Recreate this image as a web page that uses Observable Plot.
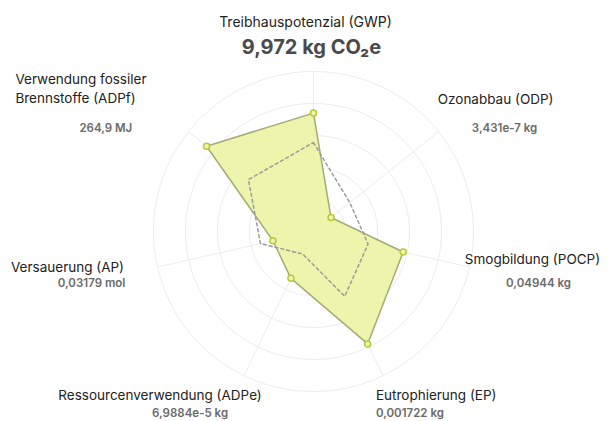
<!DOCTYPE html>
<html>
<head>
<meta charset="utf-8">
<script src="https://cdn.jsdelivr.net/npm/d3@7"></script>
<script src="https://cdn.jsdelivr.net/npm/@observablehq/plot@0.6"></script>
<style>
  html, body { margin: 0; padding: 0; background: #fff; }
  #chart svg { display: block; }
</style>
</head>
<body>
<div id="chart"></div>
<script>
// ---- data ----
const categories = ["GWP", "ODP", "POCP", "EP", "ADPe", "AP", "ADPf"];
const labels = [
  "Treibhauspotenzial (GWP)",
  "Ozonabbau (ODP)",
  "Smogbildung (POCP)",
  "Eutrophierung (EP)",
  "Ressourcenverwendung (ADPe)",
  "Versauerung (AP)",
  "Verwendung fossiler\nBrennstoffe (ADPf)"
];
const valueLabels = ["9,972 kg CO₂e", "3,431e-7 kg", "0,04944 kg", "0,001722 kg", "6,9884e-5 kg", "0,03179 mol", "264,9 MJ"];
// normalized radar values (share of outer ring)
const productValues = [0.74, 0.14, 0.575, 0.78, 0.325, 0.26, 0.855];
const referenceValues = [0.556, 0.29, 0.35, 0.45, 0.156, 0.34, 0.52];
const ringLevels = [0.2, 0.4, 0.6, 0.8, 1.0];

// ---- geometry helpers ----
const n = categories.length;
const angle = i => (i * 2 * Math.PI) / n;
const toXY = (i, r) => ({x: r * Math.sin(angle(i)), y: r * Math.cos(angle(i))});

const product = categories.map((c, i) => ({cat: c, ...toXY(i, productValues[i])}));
const reference = categories.map((c, i) => ({cat: c, ...toXY(i, referenceValues[i])}));
const spokes = categories.map((c, i) => ({cat: c, x1: 0, y1: 0, ...(({x, y}) => ({x2: x, y2: y}))(toXY(i, 1))}));
const rings = ringLevels.flatMap(level =>
  d3.range(0, 361, 2).map(deg => ({level, x: level * Math.sin(deg * Math.PI / 180), y: level * Math.cos(deg * Math.PI / 180)}))
);
const anchors = categories.map((c, i) => ({cat: c, label: labels[i], value: valueLabels[i], ...toXY(i, 1)}));

// label layout (pixel offsets from each axis end)
const labelLayout = {
  GWP:  {anchor: "middle", dx: -8,   dy: -51, vdx: -2,   vdy: -24},
  ODP:  {anchor: "middle", dx: 57,   dy: -34, vdx: 66,   vdy: -3},
  POCP: {anchor: "middle", dx: 63,   dy: -9,  vdx: 69,   vdy: 16},
  EP:   {anchor: "start",  dx: -7,   dy: 18,  vdx: -7,   vdy: 38},
  ADPe: {anchor: "middle", dx: -84,  dy: 18,  vdx: -54,  vdy: 38},
  AP:   {anchor: "middle", dx: -90,  dy: -1,  vdx: -66,  vdy: 16},
  ADPf: {anchor: "start",  dx: -173, dy: -44, vdx: -109, vdy: -3}
};

const W = 608, H = 421, R = 160, cx = 313, cy = 231;
const font = "Inter, 'Noto Sans', sans-serif";

const labelMarks = anchors.flatMap(a => {
  const L = labelLayout[a.cat];
  return [
    Plot.text([a], {x: "x", y: "y", text: "label", textAnchor: L.anchor, dx: L.dx, dy: L.dy,
      fontSize: a.cat === "GWP" ? 14 : 13.5, fill: "#222", lineHeight: 1.4, fontFamily: font}),
    Plot.text([a], {x: "x", y: "y", text: "value", textAnchor: L.anchor, dx: L.vdx, dy: L.vdy,
      fontSize: a.cat === "GWP" ? 20 : 11.5, fontWeight: a.cat === "GWP" ? 700 : 600,
      fill: a.cat === "GWP" ? "#4a4a4a" : "#6a6a6a", fontFamily: font})
  ];
});

const chart = Plot.plot({
  width: W,
  height: H,
  margin: 0,
  style: {fontFamily: font, background: "#fff"},
  x: {domain: [-cx / R, (W - cx) / R], axis: null},
  y: {domain: [-(H - cy) / R, cy / R], axis: null},
  marks: [
    Plot.line(rings, {x: "x", y: "y", z: "level", stroke: "#ececec", strokeWidth: 1}),
    Plot.link(spokes, {x1: "x1", y1: "y1", x2: "x2", y2: "y2", stroke: "#ececec", strokeWidth: 1}),
    Plot.line(product, {x: "x", y: "y", curve: "linear-closed", fill: "#ebf4a6", fillOpacity: 0.95, stroke: "#a4ab78", strokeWidth: 1.5}),
    Plot.line(reference, {x: "x", y: "y", curve: "linear-closed", stroke: "#9c9c9c", strokeWidth: 1.5, strokeDasharray: "3,3"}),
    Plot.dot(product, {x: "x", y: "y", r: 3, fill: "#eef5b0", stroke: "#b9c936", strokeWidth: 1.5}),
    ...labelMarks
  ]
});

document.getElementById("chart").append(chart);
</script>
</body>
</html>
